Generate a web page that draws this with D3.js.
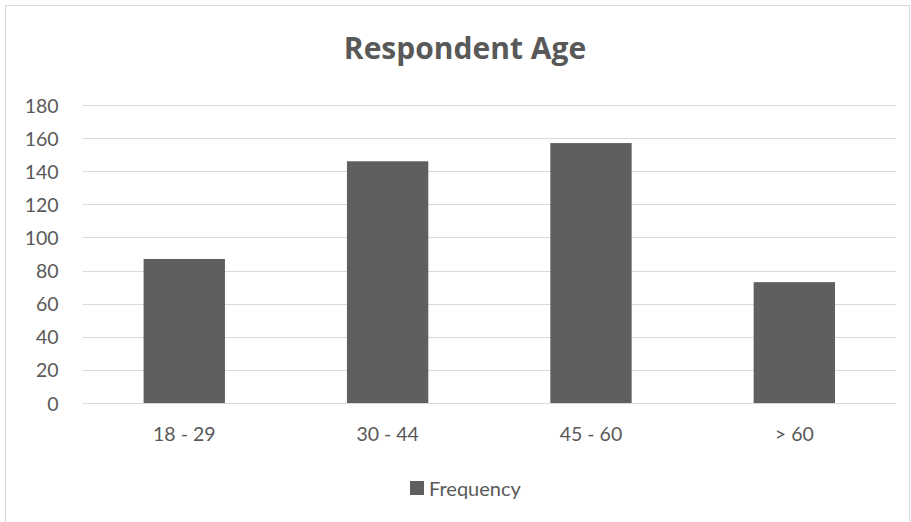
<!DOCTYPE html>
<html><head><meta charset="utf-8">
<script src="https://cdn.jsdelivr.net/npm/d3@7"></script>
<style>body{margin:0;background:#fff;} text{font-family:Lato, "Open Sans", sans-serif;}</style>
</head><body><svg id="c" width="911" height="522"></svg>
<script>
const title = "Respondent Age";
const categories = ["18 - 29", "30 - 44", "45 - 60", "> 60"];
const values = [87, 146, 157, 73];
const yTicks = [0, 20, 40, 60, 80, 100, 120, 140, 160, 180];
const seriesName = "Frequency";

const svg = d3.select("#c");
svg.append("rect").attr("x", 5.5).attr("y", 5.5).attr("width", 904).attr("height", 520)
  .attr("fill", "#fff").attr("stroke", "#d9d9d9").attr("stroke-width", 1);

const mLeft = 82.6, mRight = 896, mTop = 105, mBottom = 403;
const x = d3.scaleBand().domain(categories).range([mLeft, mRight]).paddingInner(0.6).paddingOuter(0.3);
const y = d3.scaleLinear().domain([0, 180]).range([mBottom, mTop]);

const grid = svg.append("g");
grid.selectAll("line").data(yTicks).join("line")
  .attr("x1", mLeft).attr("x2", mRight)
  .attr("y1", d => Math.round(y(d)) + 0.5).attr("y2", d => Math.round(y(d)) + 0.5)
  .attr("stroke", "#d9d9d9").attr("stroke-width", 1);

const yAxis = svg.append("g").attr("transform", `translate(${mLeft},0)`)
  .call(d3.axisLeft(y).tickValues(yTicks).tickSize(0).tickPadding(24));
yAxis.select(".domain").remove();
yAxis.selectAll("text").attr("fill", "#595959").attr("dy", "0.36em")
  .style("font-size", "19.5px").style("font-family", "Lato, sans-serif");

svg.append("g").selectAll("rect").data(values).join("rect")
  .attr("x", (d, i) => x(categories[i])).attr("width", x.bandwidth())
  .attr("y", d => y(d)).attr("height", d => y(0) - y(d))
  .attr("fill", "#5f5f5f");

const xAxis = svg.append("g").attr("transform", `translate(0,${mBottom})`)
  .call(d3.axisBottom(x).tickSize(0).tickPadding(0));
xAxis.select(".domain").remove();
xAxis.selectAll("text").attr("fill", "#595959").attr("y", 38).attr("dy", null)
  .style("font-size", "19.5px").style("font-family", "Lato, sans-serif");

svg.append("text").attr("x", 465).attr("y", 59).attr("text-anchor", "middle")
  .attr("fill", "#595959").style("font-family", "'Open Sans', sans-serif")
  .style("font-size", "30px").style("font-weight", "bold").text(title);

const lg = svg.append("g");
lg.append("rect").attr("x", 410).attr("y", 481).attr("width", 14).attr("height", 14).attr("fill", "#5f5f5f");
lg.append("text").attr("x", 429).attr("y", 495.5).attr("fill", "#595959").style("font-size", "20px").text(seriesName);
</script></body></html>
